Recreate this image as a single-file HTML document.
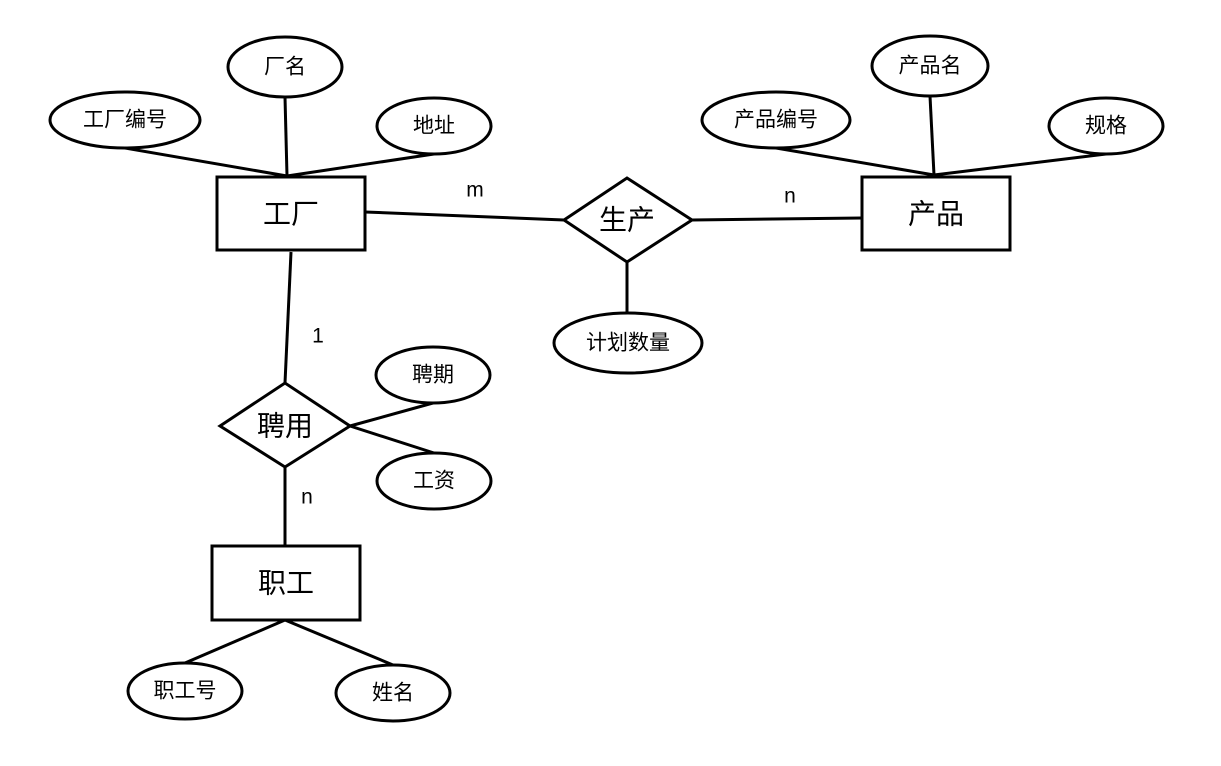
<!DOCTYPE html>
<html><head><meta charset="utf-8"><style>
html,body{margin:0;padding:0;background:#fff;}
svg text{font-family:"Liberation Sans","Noto Sans CJK SC",sans-serif;fill:#000;text-anchor:middle;dominant-baseline:central;}
</style></head><body>
<svg width="1221" height="761" viewBox="0 0 1221 761" xmlns="http://www.w3.org/2000/svg">
<g stroke="#000" stroke-width="3" fill="none">
<line x1="125" y1="148" x2="287" y2="176"/>
<line x1="285" y1="97" x2="287" y2="176"/>
<line x1="434" y1="154" x2="287" y2="176"/>
<line x1="365" y1="212" x2="564" y2="220"/>
<line x1="692" y1="220" x2="862" y2="218"/>
<line x1="627" y1="262" x2="627" y2="313"/>
<line x1="291" y1="252" x2="285" y2="383"/>
<line x1="350" y1="426" x2="433" y2="403"/>
<line x1="350" y1="426" x2="434" y2="453"/>
<line x1="285" y1="467" x2="285" y2="546"/>
<line x1="285" y1="620" x2="185" y2="663"/>
<line x1="285" y1="620" x2="393" y2="665"/>
<line x1="776" y1="148" x2="934" y2="175"/>
<line x1="930" y1="96" x2="934" y2="175"/>
<line x1="1106" y1="154" x2="934" y2="175"/>
</g>
<g stroke="#000" stroke-width="3" fill="#fff">
<ellipse cx="285" cy="67" rx="57" ry="30"/>
<ellipse cx="125" cy="120" rx="75" ry="28"/>
<ellipse cx="434" cy="126" rx="57" ry="28"/>
<rect x="217" y="177" width="148" height="73"/>
<polygon points="564,220 627,178 692,220 627,262"/>
<rect x="862" y="177" width="148" height="73"/>
<ellipse cx="930" cy="66" rx="58" ry="30"/>
<ellipse cx="776" cy="120" rx="74" ry="28"/>
<ellipse cx="1106" cy="126" rx="57" ry="28"/>
<ellipse cx="628" cy="343" rx="74" ry="30"/>
<polygon points="220,426 285,383 350,426 285,467"/>
<ellipse cx="433" cy="375" rx="57" ry="28"/>
<ellipse cx="434" cy="481" rx="57" ry="28"/>
<rect x="212" y="546" width="148" height="74"/>
<ellipse cx="185" cy="691" rx="57" ry="28"/>
<ellipse cx="393" cy="693" rx="57" ry="28"/>
</g>
<g font-size="21">
<text x="285" y="67">厂名</text>
<text x="125" y="120">工厂编号</text>
<text x="434" y="126">地址</text>
<text x="930" y="66">产品名</text>
<text x="776" y="120">产品编号</text>
<text x="1106" y="126">规格</text>
<text x="628" y="343">计划数量</text>
<text x="433" y="375">聘期</text>
<text x="434" y="481">工资</text>
<text x="185" y="691">职工号</text>
<text x="393" y="693">姓名</text>
<text x="475" y="190">m</text>
<text x="790" y="196">n</text>
<text x="318" y="336">1</text>
<text x="307" y="497">n</text>
</g>
<g font-size="28">
<text x="291" y="214">工厂</text>
<text x="936" y="214">产品</text>
<text x="627" y="220">生产</text>
<text x="285" y="426">聘用</text>
<text x="286" y="583">职工</text>
</g>
</svg>
</body></html>
